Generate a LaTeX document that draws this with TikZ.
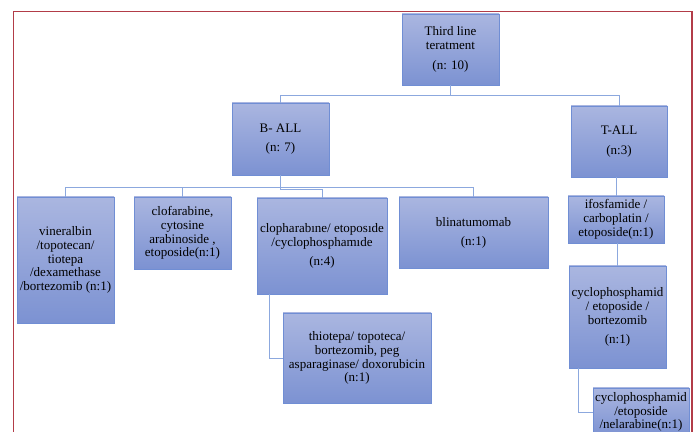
\documentclass[tikz,border=0pt]{standalone}
\usepackage{fontspec}
\setmainfont{Liberation Serif}
\definecolor{boxtop}{RGB}{170,182,224}
\definecolor{boxbot}{RGB}{124,146,210}
\definecolor{boxline}{RGB}{112,142,212}
\definecolor{conn}{RGB}{140,168,222}
\definecolor{frame}{RGB}{178,60,72}
\tikzset{
  box/.style={draw=boxline, line width=0.8pt, top color=boxtop, bottom color=boxbot,
    inner sep=1pt, align=center, font=\fontsize{13}{13.8}\selectfont, text=black},
  conline/.style={draw=conn, line width=0.9pt}
}
\begin{document}
\begin{tikzpicture}[x=1pt,y=1pt]
\useasboundingbox (0,0) rectangle (696,431);
\fill[white] (0,0) rectangle (696,431);
\draw[frame, line width=1.4pt] (13.5,-5) -- (13.5,419.5) -- (692,419.5) -- (692,-5);

\node[box, minimum width=97pt, minimum height=71pt] (root) at (450.5,381.5) {Third line\\teratment\\[6pt](n: 10)};
\node[box, minimum width=97pt, minimum height=72pt] (ball) at (280.5,292) {B- ALL\\[5pt](n: 7)};
\node[box, minimum width=96pt, minimum height=71pt] (tall) at (619,289.5) {T-ALL\\[6pt](n:3)};

\node[box, minimum width=97pt, minimum height=126pt] (a) at (65.5,171) {vineralbin\\/topotecan/\\tiotepa\\/dexamethase\\/bortezomib (n:1)};
\node[box, minimum width=97pt, minimum height=72pt] (b) at (182.5,198) {clofarabine,\\cytosine\\arabinoside ,\\etoposide(n:1)};
\node[box, minimum width=130pt, minimum height=96pt] (c) at (322,185) {clopharabıne/ etoposıde\\/cyclophosphamıde\\[6pt](n:4)};
\node[box, minimum width=149pt, minimum height=71pt] (d) at (473.5,198.5) {blinatumomab\\[5pt](n:1)};
\node[box, minimum width=148pt, minimum height=90pt] (e) at (357,73) {thiotepa/ topoteca/\\bortezomib, peg\\asparaginase/ doxorubicin\\(n:1)};

\node[box, minimum width=96pt, minimum height=47pt] (f) at (616,211.5) {ifosfamide /\\carboplatin /\\etoposide(n:1)};
\node[box, minimum width=97pt, minimum height=102pt] (g) at (617.5,114) {cyclophosphamid\\/ etoposide /\\bortezomib\\[6pt](n:1)};
\node[box, minimum width=96pt, minimum height=48pt] (h) at (641,19) {cyclophosphamid\\/etoposide\\/nelarabine(n:1)};

% connectors
\coordinate (rj) at ([yshift=-10pt]root.south);
\draw[conline] (root.south) -- (rj) -| (ball.north);
\draw[conline] (rj) -| (tall.north);
\coordinate (bj) at ([yshift=-12pt]ball.south);
\coordinate (bj2) at ([yshift=-14pt]ball.south);
\draw[conline] (ball.south) -- (bj) -| (a.north);
\draw[conline] (bj) -| (b.north);
\draw[conline] (bj) -| (d.north);
\draw[conline] (ball.south) -- (bj2) -| (c.north);
\draw[conline] ([xshift=13pt]c.south west) |- (e.west);
\draw[conline] (f.north) -- (f.north |- tall.south);
\draw[conline] (g.north) -- (g.north |- f.south);
\draw[conline] ([xshift=10pt]g.south west) |- (h.west);
\end{tikzpicture}
\end{document}
